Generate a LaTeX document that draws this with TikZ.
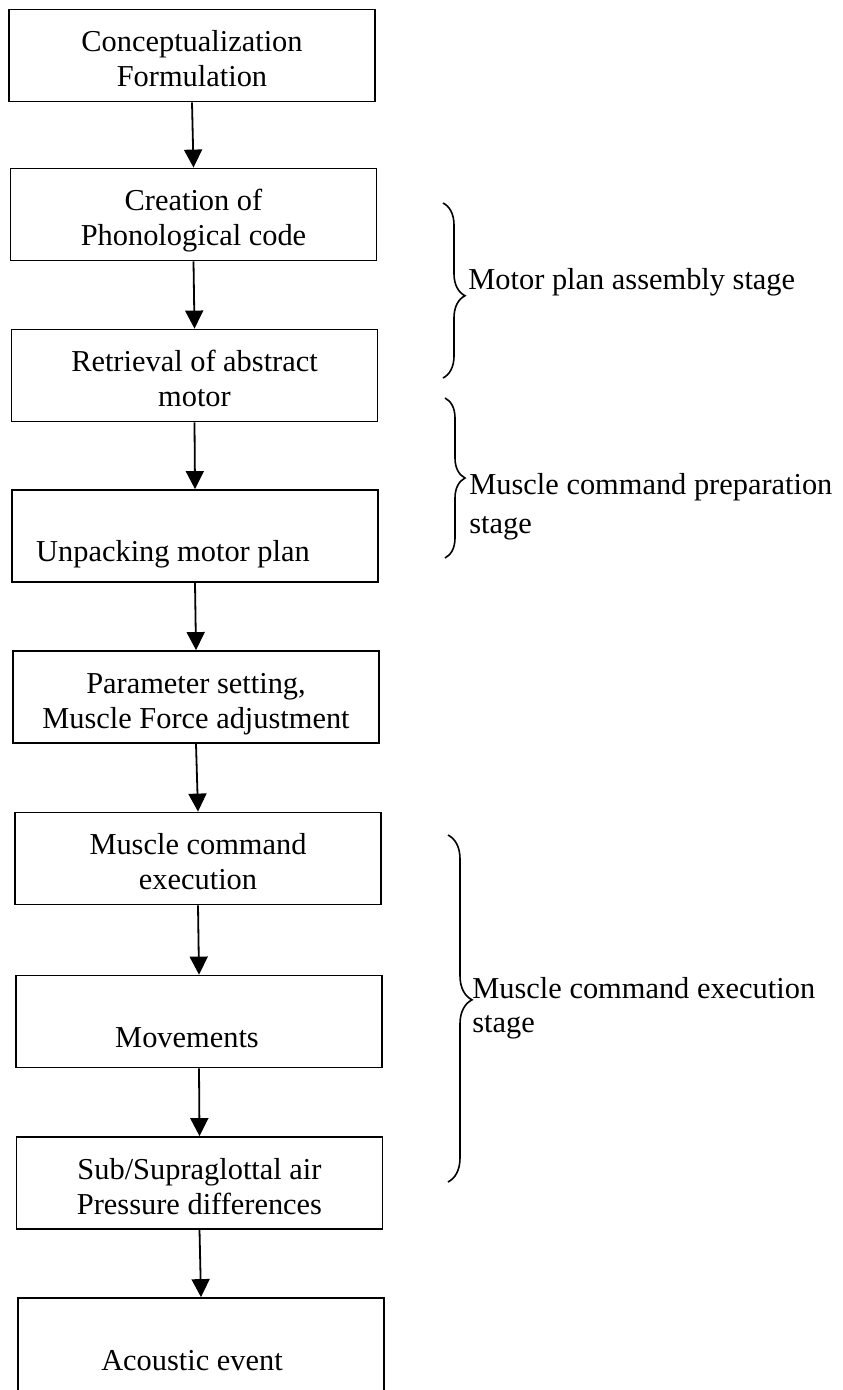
\documentclass[tikz,border=0pt]{standalone}
\usepackage{fontspec}
\setmainfont{Liberation Serif}
\usetikzlibrary{arrows.meta,decorations.pathreplacing}
\begin{document}
\begin{tikzpicture}[x=0.5pt,y=-0.5pt,
  box/.style={draw,line width=0.9pt,minimum width=183pt,minimum height=46pt,inner sep=0pt,
    align=center,font=\fontsize{15.2}{17.5}\selectfont,text height=36pt,text depth=5pt},
  lowbox/.style={box,text height=27.5pt,text depth=2pt},
  flow/.style={line width=0.9pt,-{Triangle[width=9pt,length=9pt]}},
  stagelabel/.style={inner sep=0pt,anchor=base west,align=left,font=\fontsize{15.2}{17.5}\selectfont},
  bracestyle/.style={decorate,line width=0.8pt}
]
\useasboundingbox (0,0) rectangle (842,1390);

\node[box] (b1) at (192,55.5) {Conceptualization\\Formulation};
\node[box] (b2) at (193.5,214.5) {Creation of\\Phonological code};
\node[box] (b3) at (194.5,375.5) {Retrieval of abstract\\motor};
\node[lowbox] (b4) at (195,536) {\mbox{}\\Unpacking motor plan\hspace*{22pt}};
\node[box] (b5) at (196,697) {Parameter setting,\\Muscle Force adjustment};
\node[box] (b6) at (198,858.5) {Muscle command\\execution};
\node[lowbox] (b7) at (199,1021.5) {\mbox{}\\Movements\hspace*{12pt}};
\node[box] (b8) at (199.5,1183) {Sub/Supraglottal air\\Pressure differences};
\node[lowbox,minimum height=47pt] (b9) at (201,1345) {\mbox{}\\Acoustic event\hspace*{9pt}};

\draw[flow] (b1.south) -- (b2.north);
\draw[flow] (b2.south) -- (b3.north);
\draw[flow] (b3.south) -- (b4.north);
\draw[flow] (b4.south) -- (b5.north);
\draw[flow] (b5.south) -- (b6.north);
\draw[flow] (b6.south) -- (b7.north);
\draw[flow] (b7.south) -- (b8.north);
\draw[flow] (b8.south) -- (b9.north);

\coordinate (k1a) at (443,203);
\coordinate (k1b) at (443,378);
\coordinate (k2a) at (445,398);
\coordinate (k2b) at (445,558);
\coordinate (k3a) at (448,835);
\coordinate (k3b) at (448,1182);
\draw[bracestyle,decoration={brace,amplitude=11pt,aspect=0.53}] (k1a) -- (k1b);
\draw[bracestyle,decoration={brace,amplitude=10pt,aspect=0.5}] (k2a) -- (k2b);
\draw[bracestyle,decoration={brace,amplitude=12pt,aspect=0.475}] (k3a) -- (k3b);

\node[stagelabel] (s1) at (468,290) {Motor plan assembly stage};
\node[stagelabel] (s2) at (469,533) {Muscle command preparation\\[2pt]stage};
\node[stagelabel] (s3) at (472,1032) {Muscle command execution\\[-0.5pt]stage};
\end{tikzpicture}
\end{document}
